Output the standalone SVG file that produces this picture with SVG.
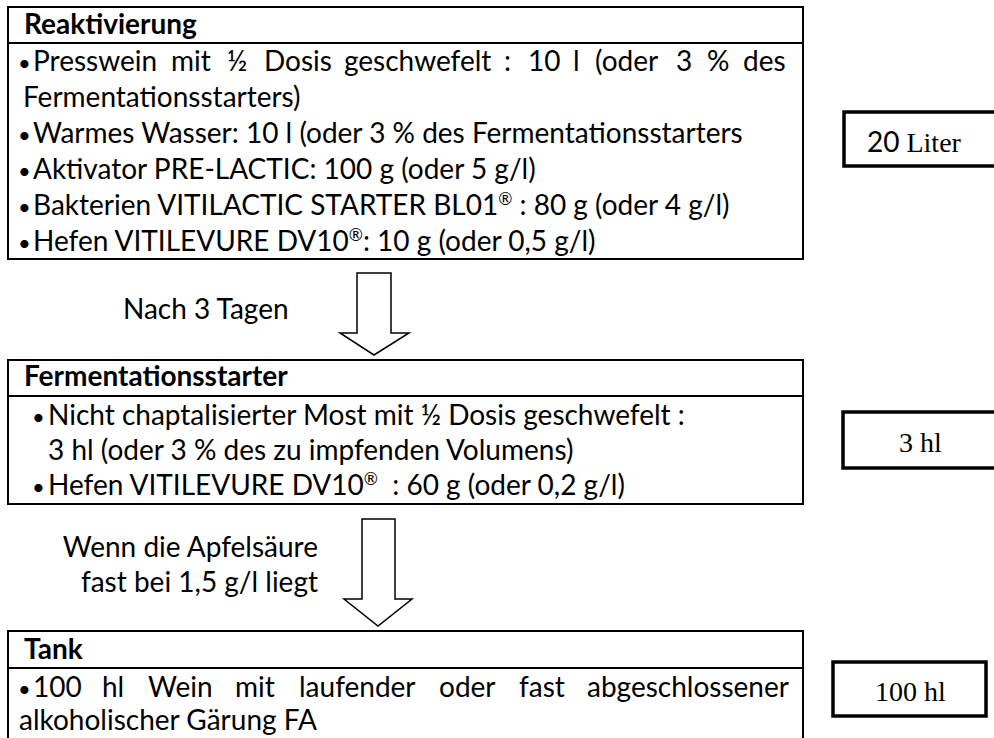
<svg xmlns="http://www.w3.org/2000/svg" width="994" height="738" viewBox="0 0 994 738">
<style>
.bg{fill:#fff}
.box{fill:#fff;stroke:#000;stroke-width:2}
.div{stroke:#000;stroke-width:2}
.side{fill:#fff;stroke:#000;stroke-width:3.5}
.t{font-family:Lato,"Liberation Sans",sans-serif;font-size:28px;fill:#000}
.h{font-family:Lato,"Liberation Sans",sans-serif;font-size:28px;font-weight:bold;fill:#000}
.bu{font-size:22px}
.sup{font-size:17px}
.s{font-family:"Liberation Serif",serif;font-size:28px;fill:#000}
.arrow{fill:#fff;stroke:#000;stroke-width:1.5;stroke-linejoin:miter}
</style>
<rect class="bg" x="0" y="0" width="994" height="738"/>

<g id="node-reaktivierung">
<rect class="box" x="8" y="7" width="795" height="252"/>
<line class="div" x1="8" y1="43" x2="803" y2="43"/>
<text class="h" x="24" y="34">Reaktivierung</text>
<text class="t" y="71"><tspan class="bu" x="18">•</tspan><tspan x="33">Presswein</tspan><tspan x="171">mit</tspan><tspan x="227">½</tspan><tspan x="264">Dosis</tspan><tspan x="344">geschwefelt</tspan><tspan x="504">:</tspan><tspan x="528">10</tspan><tspan x="573">l</tspan><tspan x="595">(oder</tspan><tspan x="676">3</tspan><tspan x="707">%</tspan><tspan x="743">des</tspan></text>
<text class="t" x="23" y="107">Fermentationsstarters)</text>
<text class="t" y="143"><tspan class="bu" x="18">•</tspan><tspan x="33">Warmes Wasser: 10 l (oder 3 % des Fermentationsstarters</tspan></text>
<text class="t" y="179"><tspan class="bu" x="18">•</tspan><tspan x="33">Aktivator PRE-LACTIC: 100 g (oder 5 g/l)</tspan></text>
<text class="t" y="215"><tspan class="bu" x="18">•</tspan><tspan x="33">Bakterien VITILACTIC STARTER BL01</tspan><tspan class="sup" dy="-10">®</tspan><tspan dy="10"> : 80 g (oder 4 g/l)</tspan></text>
<text class="t" y="251"><tspan class="bu" x="18">•</tspan><tspan x="33">Hefen VITILEVURE DV10</tspan><tspan class="sup" dy="-10">®</tspan><tspan dy="10">: 10 g (oder 0,5 g/l)</tspan></text>
</g>

<g id="node-fermentationsstarter">
<rect class="box" x="8" y="360" width="795" height="144"/>
<line class="div" x1="8" y1="396" x2="803" y2="396"/>
<text class="h" x="24" y="386">Fermentationsstarter</text>
<text class="t" y="425"><tspan class="bu" x="32">•</tspan><tspan x="48">Nicht chaptalisierter Most mit ½ Dosis geschwefelt :</tspan></text>
<text class="t" x="48" y="460">3 hl (oder 3 % des zu impfenden Volumens)</text>
<text class="t" y="495" xml:space="preserve"><tspan class="bu" x="32">•</tspan><tspan x="48">Hefen VITILEVURE DV10</tspan><tspan class="sup" dy="-10">®</tspan><tspan dy="10">  : 60 g (oder 0,2 g/l)</tspan></text>
</g>

<g id="node-tank">
<rect class="box" x="8" y="631" width="795" height="120"/>
<line class="div" x1="8" y1="668" x2="803" y2="668"/>
<text class="h" x="24" y="659">Tank</text>
<text class="t" y="697"><tspan class="bu" x="18">•</tspan><tspan x="33">100</tspan><tspan x="102">hl</tspan><tspan x="148">Wein</tspan><tspan x="235">mit</tspan><tspan x="299">laufender</tspan><tspan x="439">oder</tspan><tspan x="519">fast</tspan><tspan x="587">abgeschlossener</tspan></text>
<text class="t" x="19" y="730">alkoholischer Gärung FA</text>
</g>

<g id="node-20-liter">
<rect class="side" x="844" y="112" width="170" height="54"/>
<text y="152"><tspan class="t" x="867">20</tspan><tspan class="s"> Liter</tspan></text>
</g>

<g id="node-3-hl">
<rect class="side" x="843" y="412" width="170" height="56"/>
<text class="s" x="899" y="452">3 hl</text>
</g>

<g id="node-100-hl">
<rect class="side" x="833" y="662" width="153" height="54"/>
<text class="s" x="875" y="701">100 hl</text>
</g>

<g id="connectors">
<polygon class="arrow" points="357,273 391,273 391,333 409,333 374,355 340,333 357,333"/>
<text class="t" x="123" y="319">Nach 3 Tagen</text>
<polygon class="arrow" points="362,519 395,519 395,599 412,599 378,626 344,599 362,599"/>
<text class="t" x="318" y="557" text-anchor="end">Wenn die Apfelsäure</text>
<text class="t" x="318" y="592" text-anchor="end">fast bei 1,5 g/l liegt</text>
</g>
</svg>
